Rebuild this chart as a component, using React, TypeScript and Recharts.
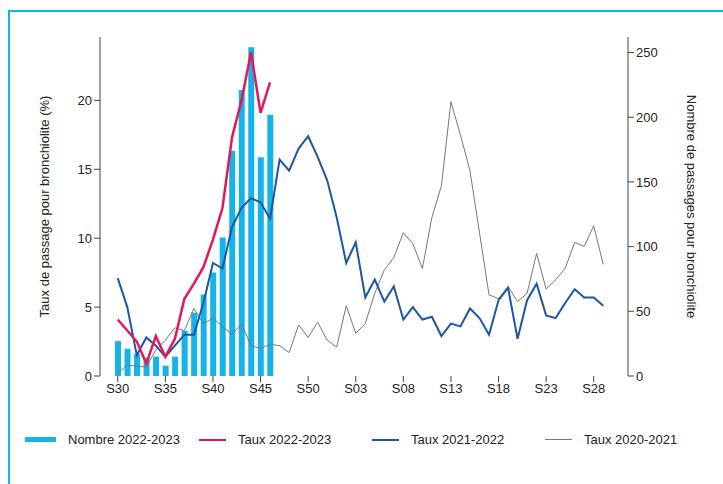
import { Bar, ComposedChart, Line, XAxis, YAxis } from "recharts";

const weeks = [
  "S30", "S31", "S32", "S33", "S34", "S35", "S36", "S37", "S38", "S39", "S40", "S41", "S42",
  "S43", "S44", "S45", "S46", "S47", "S48", "S49", "S50", "S51", "S52", "S01", "S02", "S03",
  "S04", "S05", "S06", "S07", "S08", "S09", "S10", "S11", "S12", "S13", "S14", "S15", "S16",
  "S17", "S18", "S19", "S20", "S21", "S22", "S23", "S24", "S25", "S26", "S27", "S28", "S29",
];
const tickWeeks = ["S30", "S35", "S40", "S45", "S50", "S03", "S08", "S13", "S18", "S23", "S28"];

const nombre2223 = [27, 21, 17, 14, 15, 8, 15, 35, 49, 63, 80, 107, 174, 221, 254, 169, 202];
const taux2223 = [4.1, 3.3, 2.5, 0.9, 2.9, 1.4, 2.7, 5.6, 6.7, 7.9, 9.9, 12.2, 17.3, 20.0, 23.5, 19.1, 21.3];
const taux2122 = [
  7.1, 5.0, 1.5, 2.8, 2.2, 1.4, 2.2, 3.0, 3.0, 5.3, 8.2, 7.8, 10.8, 12.2, 12.9, 12.6, 11.4,
  15.7, 14.9, 16.5, 17.4, 15.9, 14.2, 11.5, 8.2, 9.7, 5.7, 7.0, 5.4, 6.5, 4.1, 5.0, 4.1, 4.3,
  2.9, 3.8, 3.6, 4.9, 4.2, 3.0, 5.5, 6.4, 2.7, 5.5, 6.7, 4.4, 4.2, 5.3, 6.3, 5.7, 5.7, 5.1,
];
const taux2021 = [
  0.2, 0.8, 0.7, 0.65, 1.9, 2.6, 3.5, 3.3, 4.9, 3.8, 4.2, 3.6, 3.0, 3.8, 2.2, 2.0, 2.3, 2.2,
  1.7, 3.7, 2.8, 3.9, 2.6, 2.1, 5.1, 3.1, 3.8, 6.0, 7.7, 8.6, 10.4, 9.6, 7.8, 11.5, 13.8, 19.9,
  17.5, 14.9, 10.4, 5.9, 5.6, 6.5, 5.4, 6.0, 8.9, 6.3, 7.0, 7.8, 9.7, 9.4, 10.9, 8.1,
];

const data = weeks.map((w, i) => ({
  week: w,
  nombre: nombre2223[i],
  t2223: taux2223[i],
  t2122: taux2122[i],
  t2021: taux2021[i],
}));

const tick = { fill: "#222", fontSize: 13 };
const font = "'Liberation Sans', Arial, sans-serif";

const legend = [
  { label: "Nombre 2022-2023", color: "#14b4e6", h: 5, x: 25 },
  { label: "Taux 2022-2023", color: "#e5175a", h: 2, x: 199 },
  { label: "Taux 2021-2022", color: "#1f56a3", h: 2, x: 372 },
  { label: "Taux 2020-2021", color: "#777", h: 1, x: 545 },
];

export default function App() {
  return (
    <div style={{ position: "absolute", left: 0, top: 0, width: 723, height: 484, fontFamily: font }}>
      <div
        style={{
          position: "absolute",
          left: 8,
          top: 10,
          width: 715,
          height: 474,
          borderTop: "2px solid #14b4e6",
          borderLeft: "2px solid #14b4e6",
        }}
      />
      <div style={{ position: "absolute", left: 0, top: 0 }}>
        <ComposedChart
          width={723}
          height={420}
          data={data}
          margin={{ top: 37, right: 35, bottom: 14, left: 40 }}
          style={{ fontFamily: font }}
        >
          <XAxis
            dataKey="week"
            ticks={tickWeeks}
            interval={0}
            tick={tick}
            axisLine={false}
            tickLine={{ stroke: "#444" }}
            tickSize={6}
            height={30}
            padding={{ left: 13, right: 20 }}
          />
          <YAxis
            yAxisId="left"
            domain={[0, 24.6]}
            ticks={[0, 5, 10, 15, 20]}
            width={60}
            tick={tick}
            axisLine={{ stroke: "#444" }}
            tickLine={{ stroke: "#444" }}
            label={{
              value: "Taux de passage pour bronchiolite (%)",
              angle: -90,
              position: "insideLeft",
              offset: 4,
              style: { textAnchor: "middle", fill: "#222", fontSize: 13 },
            }}
          />
          <YAxis
            yAxisId="right"
            orientation="right"
            domain={[0, 262]}
            ticks={[0, 50, 100, 150, 200, 250]}
            width={60}
            tick={tick}
            axisLine={{ stroke: "#444" }}
            tickLine={{ stroke: "#444" }}
            label={{
              value: "Nombre de passages pour bronchiolite",
              angle: 90,
              position: "insideRight",
              offset: -4,
              style: { textAnchor: "middle", fill: "#222", fontSize: 13 },
            }}
          />
          <Bar yAxisId="right" dataKey="nombre" fill="#14b4e6" barSize={6} isAnimationActive={false} />
          <Line yAxisId="left" dataKey="t2021" stroke="#777" strokeWidth={1} dot={false} type="linear" isAnimationActive={false} />
          <Line yAxisId="left" dataKey="t2122" stroke="#1f56a3" strokeWidth={2} dot={false} type="linear" isAnimationActive={false} />
          <Line yAxisId="left" dataKey="t2223" stroke="#e5175a" strokeWidth={2.5} dot={false} type="linear" isAnimationActive={false} />
        </ComposedChart>
      </div>
      {legend.map((l) => (
        <div
          key={l.label}
          style={{ position: "absolute", left: l.x, top: 432, display: "flex", alignItems: "center", fontSize: 13, color: "#222" }}
        >
          <div style={{ width: l.h > 3 ? 31 : 27, height: l.h, background: l.color, marginRight: 12 }} />
          <span>{l.label}</span>
        </div>
      ))}
    </div>
  );
}
